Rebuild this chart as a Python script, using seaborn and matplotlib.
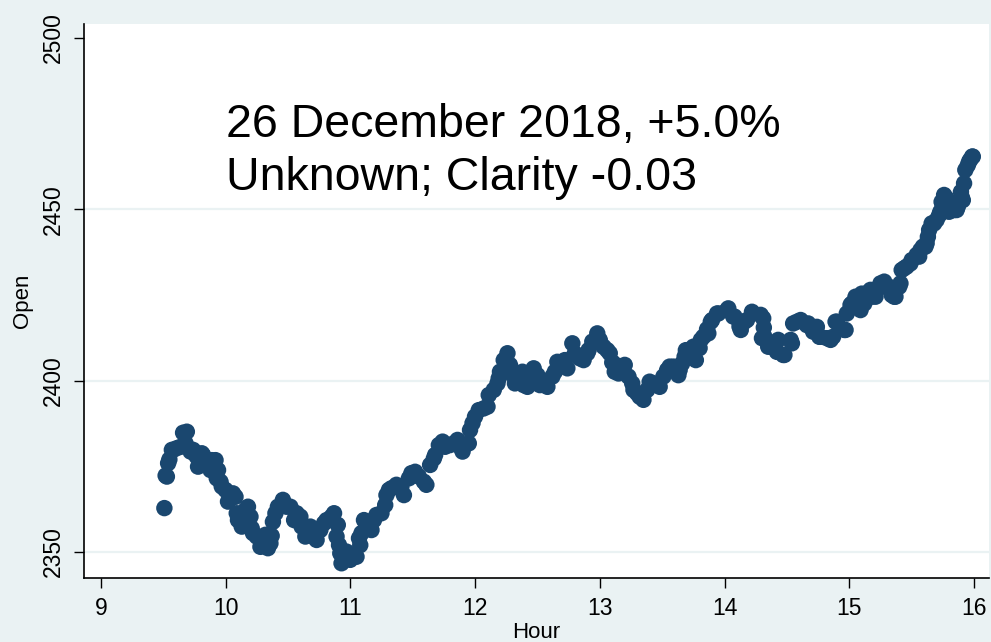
import pandas as pd
import matplotlib
matplotlib.use("Agg")
import matplotlib.pyplot as plt
import seaborn as sns

# Values (hour of day, opening price)
hours = [
    # main path
    9.51, 9.52, 9.54, 9.57, 9.61, 9.66, 9.68, 9.74, 9.78, 9.82, 9.88, 9.92, 9.94, 9.96,
    10.00, 10.02, 10.08, 10.10, 10.13, 10.18, 10.20, 10.22, 10.28, 10.34, 10.37, 10.38,
    10.42, 10.46, 10.52, 10.55, 10.60, 10.64, 10.68, 10.73, 10.79, 10.87, 10.89, 10.90,
    10.91, 10.92, 10.93, 10.97,
    11.05, 11.08, 11.09, 11.11, 11.17, 11.21, 11.28, 11.31, 11.37, 11.43, 11.49, 11.55,
    11.61, 11.64, 11.68, 11.74, 11.80, 11.86, 11.90, 11.95, 11.96,
    12.00, 12.03, 12.10, 12.11, 12.18, 12.20, 12.23, 12.26, 12.28, 12.30, 12.32, 12.38,
    12.42, 12.47, 12.52, 12.58, 12.62, 12.66, 12.72, 12.78, 12.84, 12.90, 12.94, 12.98,
    13.03, 13.08, 13.10, 13.12, 13.20, 13.23, 13.27, 13.35, 13.40, 13.47, 13.54, 13.59,
    13.63, 13.66, 13.69, 13.77, 13.80, 13.83, 13.86, 13.90, 13.95,
    14.02, 14.07, 14.13, 14.18, 14.23, 14.31, 14.315, 14.32, 14.37, 14.43, 14.47, 14.53,
    14.58, 14.66, 14.74, 14.76, 14.85, 14.89, 14.96,
    15.01, 15.02, 15.09, 15.10, 15.14, 15.17, 15.21, 15.25, 15.28, 15.30, 15.34, 15.36,
    15.41, 15.42, 15.44, 15.49, 15.50, 15.56, 15.57, 15.61, 15.62, 15.63, 15.64, 15.68,
    15.70, 15.72, 15.73, 15.745, 15.76, 15.81, 15.84, 15.86, 15.90, 15.91, 15.92, 15.93,
    15.96, 15.97, 15.99,
    # extra minutes filling the band
    9.53, 9.55, 9.58, 9.64, 9.69, 9.72, 9.75, 9.77, 9.81, 9.83, 9.86, 9.89, 9.90, 9.93,
    9.97, 10.04, 10.06, 10.09, 10.16, 10.17, 10.21, 10.25, 10.32, 10.36, 10.40, 10.49,
    10.57, 10.61, 10.65, 10.70, 10.76, 10.81, 10.85,
    11.00, 11.03, 11.07, 11.13, 11.19, 11.25, 11.29, 11.33, 11.41, 11.47, 11.52, 11.59,
    11.67, 11.71, 11.76, 11.83, 11.88, 11.92, 11.98,
    12.07, 12.15, 12.19, 12.24, 12.31, 12.35, 12.39, 12.44, 12.50, 12.55, 12.64, 12.68,
    12.74, 12.80, 12.87, 12.91, 13.00, 13.06, 13.11, 13.15, 13.18, 13.26, 13.30, 13.32,
    13.38, 13.43, 13.48, 13.51, 13.56, 13.64, 13.68, 13.70, 13.75, 13.81, 13.87, 13.89,
    13.94, 14.03, 14.08, 14.12, 14.16, 14.22, 14.29, 14.30, 14.35, 14.42, 14.48, 14.54,
    14.55, 14.61, 14.67, 14.71, 14.77, 14.82, 14.87, 14.90, 14.97, 14.98,
    15.05, 15.12, 15.18, 15.26, 15.32, 15.37, 15.40, 15.46, 15.54, 15.59, 15.66, 15.74,
    15.78, 15.80, 15.87, 15.895, 15.95, 15.985,
]
open_price = [
    # main path
    2362.8, 2372.3, 2375.9, 2379.8, 2380.3, 2384.8, 2381.7, 2379.8, 2374.9, 2378.3, 2373.9, 2376.8, 2373.9, 2370.5,
    2368.1, 2364.7, 2366.1, 2359.3, 2357.4, 2363.2, 2360.3, 2355.5, 2351.5, 2351.1, 2354.7, 2358.8,
    2363.2, 2365.2, 2363.2, 2359.3, 2360.3, 2354.5, 2357.4, 2353.5, 2358.4, 2361.3, 2354.5, 2357.9,
    2352.0, 2349.6, 2346.7, 2350.1,
    2348.6, 2352.0, 2355.5, 2359.3, 2356.4, 2360.8, 2363.7, 2368.1, 2369.6, 2366.6, 2373.0, 2372.0,
    2369.6, 2375.4, 2378.3, 2382.2, 2381.2, 2382.7, 2379.3, 2381.7, 2385.6,
    2389.5, 2391.4, 2392.4, 2395.8, 2399.2, 2402.6, 2406.0, 2408.0, 2404.6, 2401.8, 2399.2, 2402.6,
    2398.2, 2403.6, 2398.7, 2398.2, 2401.2, 2405.5, 2406.0, 2410.9, 2406.5, 2408.0, 2411.4, 2413.8,
    2409.9, 2408.0, 2405.3, 2402.6, 2404.6, 2401.2, 2397.3, 2394.4, 2399.7, 2398.7, 2403.1, 2404.1,
    2401.6, 2405.0, 2408.9, 2406.0, 2409.5, 2412.8, 2415.0, 2417.7, 2419.6,
    2420.6, 2418.7, 2414.8, 2417.7, 2419.6, 2418.2, 2415.5, 2412.8, 2409.9, 2411.9, 2407.5, 2411.9,
    2417.2, 2416.2, 2415.7, 2412.8, 2411.9, 2417.2, 2414.8,
    2422.1, 2422.5, 2420.6, 2425.4, 2425.5, 2426.5, 2424.5, 2428.4, 2428.9, 2427.4, 2425.0, 2424.5,
    2428.4, 2432.3, 2432.8, 2434.2, 2435.2, 2436.2, 2438.1, 2439.1, 2440.1, 2442.0, 2444.0, 2445.9,
    2446.9, 2448.3, 2449.3, 2451.8, 2454.2, 2449.8, 2449.8, 2449.8, 2453.7, 2452.7, 2457.6, 2461.5,
    2463.9, 2464.5, 2465.4,
    # extra minutes filling the band
    2372.0, 2377.0, 2379.8, 2380.7, 2385.1, 2379.3, 2378.8, 2377.8, 2378.8, 2375.9, 2376.4, 2376.8, 2375.9, 2371.5,
    2369.1, 2365.7, 2367.1, 2361.3, 2362.3, 2358.4, 2356.9, 2354.5, 2355.0, 2352.5, 2361.3, 2363.2,
    2361.3, 2357.4, 2355.5, 2354.5, 2356.4, 2359.3, 2360.3,
    2347.7, 2348.6, 2354.0, 2357.4, 2359.3, 2361.3, 2366.6, 2368.6, 2369.1, 2371.5, 2373.4, 2370.5,
    2377.3, 2381.2, 2380.7, 2381.7, 2380.7, 2381.2, 2387.6,
    2391.9, 2397.3, 2400.7, 2403.1, 2402.1, 2400.2, 2398.7, 2401.2, 2401.6, 2399.7, 2402.6, 2405.1,
    2403.6, 2408.0, 2406.0, 2408.9, 2411.9, 2408.9, 2405.1, 2402.1, 2404.1, 2399.2, 2396.3, 2395.3,
    2397.3, 2399.2, 2398.2, 2401.2, 2404.1, 2403.1, 2407.0, 2408.0, 2409.9, 2411.9, 2413.8, 2417.2,
    2419.6, 2421.1, 2418.7, 2415.8, 2417.2, 2420.1, 2419.2, 2412.4, 2409.9, 2408.4, 2407.5, 2410.9,
    2416.7, 2417.7, 2416.7, 2414.3, 2412.8, 2412.4, 2412.8, 2417.2, 2414.8, 2419.6,
    2424.5, 2422.5, 2424.5, 2427.4, 2427.4, 2424.5, 2427.4, 2433.3, 2436.7, 2439.1, 2445.9, 2452.2,
    2453.2, 2449.3, 2450.8, 2455.1, 2462.9, 2465.4,
]
x_ticks = [9, 10, 11, 12, 13, 14, 15, 16]
y_ticks = [2350, 2400, 2450, 2500]
grid_levels = [2350, 2400, 2450]
note_lines = ["26 December 2018, +5.0%", "Unknown; Clarity -0.03"]

df = pd.DataFrame({"Hour": hours, "Open": open_price})

sns.set_style("white")
plt.rcParams["font.family"] = ["Liberation Sans", "DejaVu Sans"]
plt.rcParams["text.color"] = "black"
plt.rcParams["axes.labelcolor"] = "black"
plt.rcParams["xtick.color"] = "black"
plt.rcParams["ytick.color"] = "black"

bg = "#EAF2F3"
navy = "#1A476F"

fig = plt.figure(figsize=(9.91, 6.42), dpi=100, facecolor=bg)
ax = fig.add_axes([0.0848, 0.0997, 0.9132, 0.8629])
ax.set_facecolor("white")

# light horizontal grid like Stata's s2color scheme
for lvl in grid_levels:
    ax.axhline(lvl, color=bg, lw=1.6, zorder=0)

sns.scatterplot(data=df, x="Hour", y="Open", ax=ax, color=navy, s=140,
                linewidth=0, edgecolor="none", zorder=3)

ax.set_xlim(8.866, 16.12)
ax.set_ylim(2342.4, 2504.1)
ax.set_xticks(x_ticks)
ax.set_yticks(y_ticks)
ax.tick_params(axis="both", direction="out", length=7, width=1, color="black",
               labelcolor="black", labelsize=16.5, pad=7, bottom=True, left=True)
plt.setp(ax.get_yticklabels(), rotation=90, va="center")

for side in ["top", "right"]:
    ax.spines[side].set_visible(False)
for side in ["left", "bottom"]:
    ax.spines[side].set_color("black")
    ax.spines[side].set_linewidth(1.2)

ax.set_xlabel("Hour", fontsize=16, labelpad=1, color="black")
ax.set_ylabel("Open", fontsize=16, labelpad=6, color="black")

ax.text(10.0, 2471.2, note_lines[0], fontsize=33.5, va="baseline", ha="left", color="black")
ax.text(10.0, 2455.6, note_lines[1], fontsize=33.5, va="baseline", ha="left", color="black")

plt.savefig("out.png", dpi=100, facecolor=bg)
